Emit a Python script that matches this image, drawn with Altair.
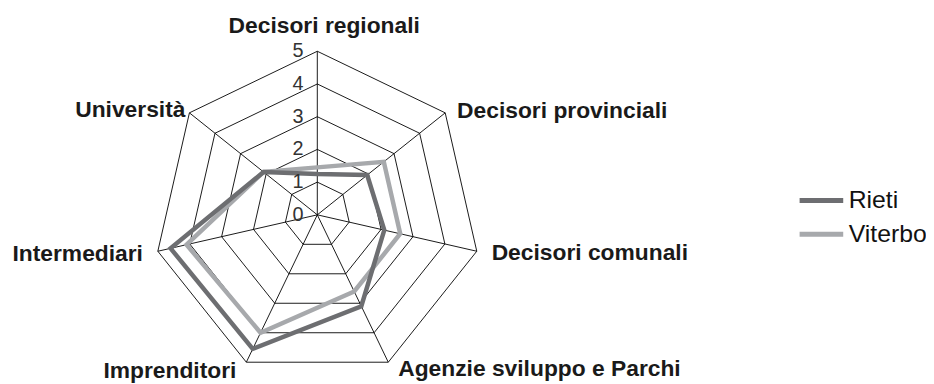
import altair as alt
import pandas as pd

categories = ["Decisori regionali", "Decisori provinciali", "Decisori comunali",
              "Agenzie sviluppo e Parchi", "Imprenditori", "Intermediari", "Università"]
rieti = [1.25, 1.95, 2.1, 3.1, 4.55, 4.6, 2.1]
viterbo = [1.45, 2.6, 2.6, 2.6, 4.0, 4.1, 2.1]
series_names = ["Rieti", "Viterbo"]
ticks = [0, 1, 2, 3, 4, 5]

n = len(categories)
vmax = 5

# series table (closed polygons)
rows = []
for name, vals in zip(series_names, [rieti, viterbo]):
    for k in range(n + 1):
        i = k % n
        rows.append({"series": name, "idx": i, "ord": k, "value": vals[i]})
series_df = pd.DataFrame(rows)

ring_rows = []
for r in ticks[1:]:
    for k in range(n + 1):
        ring_rows.append({"ring": r, "idx": k % n, "ord": k, "value": r})
ring_df = pd.DataFrame(ring_rows)

cat_df = pd.DataFrame({"category": categories, "idx": list(range(n)), "value": [vmax] * n})
tick_df = pd.DataFrame({"tick": ticks})

PXU = 33.0
W, H = 926, 376
cx, cy = 312, 207
xs = alt.Scale(domain=[-cx / PXU, (W - cx) / PXU], nice=False, zero=False)
ys = alt.Scale(domain=[-(H - cy) / PXU, cy / PXU], nice=False, zero=False)

def polar(chart):
    return chart.transform_calculate(
        theta=f"datum.idx * 2 * PI / {n}"
    ).transform_calculate(
        px="datum.value * sin(datum.theta)",
        py="datum.value * cos(datum.theta)",
    )

X = alt.X("px:Q", scale=xs, axis=None)
Y = alt.Y("py:Q", scale=ys, axis=None)

rings = polar(alt.Chart(ring_df)).mark_line(
    color="#000000", strokeWidth=0.9, strokeJoin="miter"
).encode(x=X, y=Y, detail="ring:N", order="ord:Q")

spokes = polar(alt.Chart(cat_df)).transform_calculate(zero="0").mark_rule(
    color="#000000", strokeWidth=0.9
).encode(x=X, y=Y, x2=alt.X2("zero:Q"), y2=alt.Y2("zero:Q"))

color = alt.Color(
    "series:N",
    scale=alt.Scale(domain=series_names, range=["#6d6e71", "#a7a9ac"]),
    legend=alt.Legend(
        title=None, orient="none", legendX=807, legendY=179,
        symbolType="M-2,0H2", symbolSize=484, symbolStrokeWidth=5,
        labelFontSize=25, labelFont="Liberation Sans", labelColor="#111111",
        rowPadding=7, padding=0, labelOffset=14,
    ),
)

viterbo_line = polar(alt.Chart(series_df)).transform_filter(alt.datum.series == "Viterbo").mark_line(
    strokeWidth=4.5, strokeJoin="miter"
).encode(x=X, y=Y, color=color, order="ord:Q")
rieti_line = polar(alt.Chart(series_df)).transform_filter(alt.datum.series == "Rieti").mark_line(
    strokeWidth=4.5, strokeJoin="miter"
).encode(x=X, y=Y, color=color, order="ord:Q")

tick_text = alt.Chart(tick_df).transform_calculate(zero="0").mark_text(
    align="right", baseline="middle", dx=-14, dy=0, fontSize=20,
    font="Liberation Sans", color="#333333"
).encode(x=alt.X("zero:Q", scale=xs, axis=None), y=alt.Y("tick:Q", scale=ys, axis=None),
         text=alt.Text("tick:Q"))

label_style = {
    "Decisori regionali": ("center", 7, -25),
    "Decisori provinciali": ("left", 12, -2),
    "Decisori comunali": ("left", 15, 2),
    "Agenzie sviluppo e Parchi": ("left", 10, 7),
    "Imprenditori": ("right", -10, 9),
    "Intermediari": ("right", -15, 3),
    "Università": ("right", -4, -3),
}
label_layers = []
for cat in categories:
    al, dx, dy = label_style[cat]
    label_layers.append(
        polar(alt.Chart(cat_df)).transform_filter(alt.datum.category == cat).mark_text(
            align=al, baseline="middle", dx=dx, dy=dy, fontSize=23, fontWeight="bold",
            font="Liberation Sans", color="#1a1a1a"
        ).encode(x=X, y=Y, text="category:N")
    )

chart = alt.layer(
    rings, spokes, viterbo_line, rieti_line, tick_text, *label_layers
).properties(
    width=W, height=H, padding=0, autosize=alt.AutoSizeParams(type="none")
).configure(background="#ffffff").configure_view(stroke=None)

chart.save("out.html", embed_options={"renderer": "svg", "actions": False})
